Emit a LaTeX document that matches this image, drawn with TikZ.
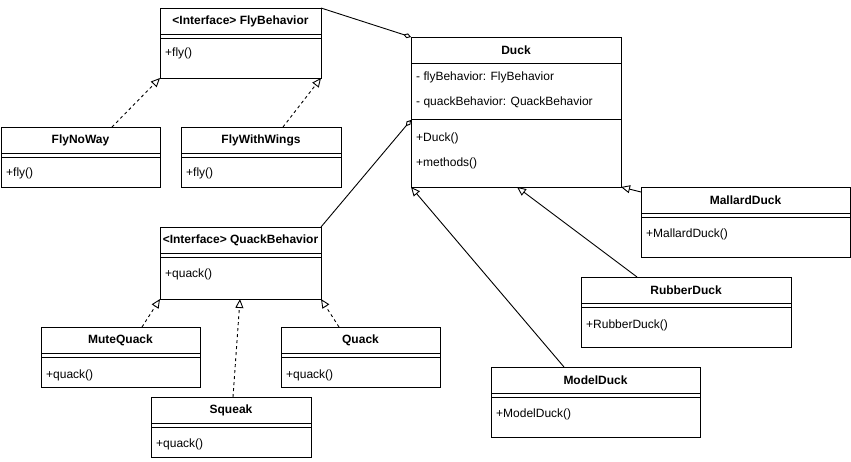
\documentclass[tikz,border=0pt]{standalone}
\usepackage{fontspec}
\setmainfont{Liberation Sans}
\usetikzlibrary{arrows.meta,calc}
\tikzset{
  cls/.style={draw, line width=1pt, anchor=north west, inner sep=0pt, outer sep=0pt, fill=white},
  ttl/.style={inner sep=0pt, font=\fontsize{12}{14}\selectfont\bfseries},
  mem/.style={inner sep=0pt, anchor=west, font=\fontsize{12}{14}\selectfont},
  sep/.style={line width=1pt},
  realize/.style={line width=0.9pt, dash pattern=on 3pt off 3pt, -{Triangle[open, length=9pt, width=8pt, line width=0.9pt]}},
  inherit/.style={line width=0.9pt, -{Triangle[open, length=9pt, width=8pt, line width=0.9pt]}},
  aggr/.style={line width=0.9pt, -{Diamond[open, length=8pt, width=5pt, line width=0.9pt]}}
}
% #1 name, #2 x, #3 y, #4 w, #5 h, #6 title
\newcommand\umlclass[6]{%
  \node[cls, minimum width=#4pt, minimum height=#5pt] (#1) at (#2,#3) {};
  \node[ttl] (#1-title) at ($(#1.north)+(0,13.5)$) {#6};
}
\begin{document}
\begin{tikzpicture}[x=1pt, y=-1pt]
\useasboundingbox (0,0) rectangle (851,461);

% FlyBehavior
\umlclass{FlyBehavior}{160}{8}{161}{70}{<Interface> FlyBehavior}
\draw[sep] ($(FlyBehavior.north west)+(0,26)$) -- ($(FlyBehavior.north east)+(0,26)$);
\draw[sep] ($(FlyBehavior.north west)+(0,30)$) -- ($(FlyBehavior.north east)+(0,30)$);
\node[mem] (FlyBehavior-m1) at ($(FlyBehavior.north west)+(5,45)$) {+fly()};

% FlyNoWay
\umlclass{FlyNoWay}{1}{127}{159}{60}{FlyNoWay}
\draw[sep] ($(FlyNoWay.north west)+(0,26)$) -- ($(FlyNoWay.north east)+(0,26)$);
\draw[sep] ($(FlyNoWay.north west)+(0,30)$) -- ($(FlyNoWay.north east)+(0,30)$);
\node[mem] (FlyNoWay-m1) at ($(FlyNoWay.north west)+(5,46)$) {+fly()};

% FlyWithWings
\umlclass{FlyWithWings}{181}{127}{160}{60}{FlyWithWings}
\draw[sep] ($(FlyWithWings.north west)+(0,26)$) -- ($(FlyWithWings.north east)+(0,26)$);
\draw[sep] ($(FlyWithWings.north west)+(0,30)$) -- ($(FlyWithWings.north east)+(0,30)$);
\node[mem] (FlyWithWings-m1) at ($(FlyWithWings.north west)+(5,46)$) {+fly()};

% Duck
\umlclass{Duck}{411}{37}{210}{150}{Duck}
\draw[sep] ($(Duck.north west)+(0,26)$) -- ($(Duck.north east)+(0,26)$);
\node[mem] (Duck-f1) at ($(Duck.north west)+(5,40)$) {- flyBehavior: FlyBehavior};
\node[mem] (Duck-f2) at ($(Duck.north west)+(5,65)$) {- quackBehavior: QuackBehavior};
\draw[sep] ($(Duck.north west)+(0,82)$) -- ($(Duck.north east)+(0,82)$);
\node[mem] (Duck-m1) at ($(Duck.north west)+(5,101)$) {+Duck()};
\node[mem] (Duck-m2) at ($(Duck.north west)+(5,126)$) {+methods()};

% QuackBehavior
\umlclass{QuackBehavior}{160}{227}{161}{72}{<Interface> QuackBehavior}
\draw[sep] ($(QuackBehavior.north west)+(0,26)$) -- ($(QuackBehavior.north east)+(0,26)$);
\draw[sep] ($(QuackBehavior.north west)+(0,30)$) -- ($(QuackBehavior.north east)+(0,30)$);
\node[mem] (QuackBehavior-m1) at ($(QuackBehavior.north west)+(5,47)$) {+quack()};

% MuteQuack
\umlclass{MuteQuack}{41}{327}{159}{60}{MuteQuack}
\draw[sep] ($(MuteQuack.north west)+(0,26)$) -- ($(MuteQuack.north east)+(0,26)$);
\draw[sep] ($(MuteQuack.north west)+(0,30)$) -- ($(MuteQuack.north east)+(0,30)$);
\node[mem] (MuteQuack-m1) at ($(MuteQuack.north west)+(5,48)$) {+quack()};

% Quack
\umlclass{Quack}{281}{327}{159}{60}{Quack}
\draw[sep] ($(Quack.north west)+(0,26)$) -- ($(Quack.north east)+(0,26)$);
\draw[sep] ($(Quack.north west)+(0,30)$) -- ($(Quack.north east)+(0,30)$);
\node[mem] (Quack-m1) at ($(Quack.north west)+(5,48)$) {+quack()};

% Squeak
\umlclass{Squeak}{151}{397}{160}{60}{Squeak}
\draw[sep] ($(Squeak.north west)+(0,26)$) -- ($(Squeak.north east)+(0,26)$);
\draw[sep] ($(Squeak.north west)+(0,30)$) -- ($(Squeak.north east)+(0,30)$);
\node[mem] (Squeak-m1) at ($(Squeak.north west)+(5,47)$) {+quack()};

% MallardDuck
\umlclass{MallardDuck}{641}{187}{209}{70}{MallardDuck}
\draw[sep] ($(MallardDuck.north west)+(0,26)$) -- ($(MallardDuck.north east)+(0,26)$);
\draw[sep] ($(MallardDuck.north west)+(0,30)$) -- ($(MallardDuck.north east)+(0,30)$);
\node[mem] (MallardDuck-m1) at ($(MallardDuck.north west)+(5,47)$) {+MallardDuck()};

% RubberDuck
\umlclass{RubberDuck}{581}{277}{210}{70}{RubberDuck}
\draw[sep] ($(RubberDuck.north west)+(0,26)$) -- ($(RubberDuck.north east)+(0,26)$);
\draw[sep] ($(RubberDuck.north west)+(0,30)$) -- ($(RubberDuck.north east)+(0,30)$);
\node[mem] (RubberDuck-m1) at ($(RubberDuck.north west)+(5,48)$) {+RubberDuck()};

% ModelDuck
\umlclass{ModelDuck}{491}{367}{209}{70}{ModelDuck}
\draw[sep] ($(ModelDuck.north west)+(0,26)$) -- ($(ModelDuck.north east)+(0,26)$);
\draw[sep] ($(ModelDuck.north west)+(0,30)$) -- ($(ModelDuck.north east)+(0,30)$);
\node[mem] (ModelDuck-m1) at ($(ModelDuck.north west)+(5,47)$) {+ModelDuck()};

% aggregation
\draw[aggr] (FlyBehavior.north east) -- (Duck.north west);
\draw[aggr] (QuackBehavior.north east) -- ($(Duck.north west)+(0,83)$);

% realization
\draw[realize] ($(FlyNoWay.north west)+(111,0)$) -- (FlyBehavior.south west);
\draw[realize] ($(FlyWithWings.north west)+(102,0)$) -- (FlyBehavior.south east);
\draw[realize] ($(MuteQuack.north west)+(101,0)$) -- (QuackBehavior.south west);
\draw[realize] ($(Quack.north west)+(58,0)$) -- (QuackBehavior.south east);
\draw[realize] ($(Squeak.north west)+(82,0)$) -- ($(QuackBehavior.south west)+(80,0)$);

% inheritance
\draw[inherit] ($(MallardDuck.north west)+(0,5)$) -- (Duck.south east);
\draw[inherit] ($(RubberDuck.north west)+(56,0)$) -- ($(Duck.south west)+(106,0)$);
\draw[inherit] ($(ModelDuck.north west)+(73,0)$) -- (Duck.south west);
\end{tikzpicture}
\end{document}
